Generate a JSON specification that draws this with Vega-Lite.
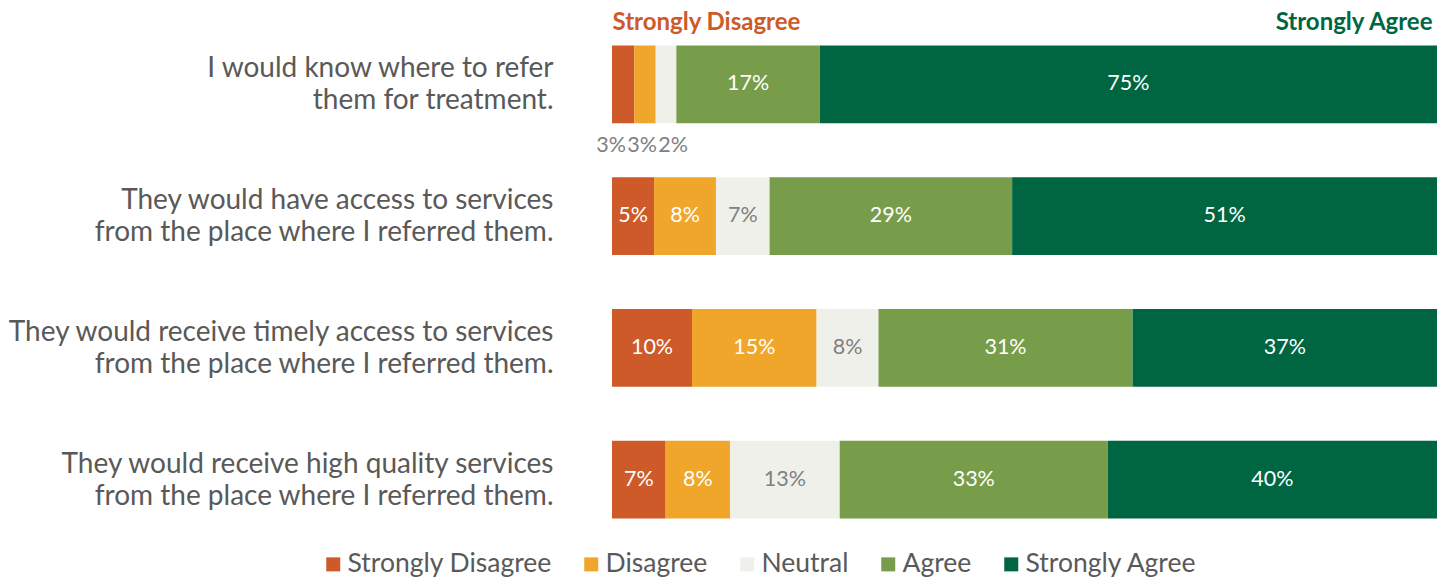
{
  "$schema": "https://vega.github.io/schema/vega-lite/v6.json",
  "width": 825,
  "height": 486,
  "autosize": {"type": "none"},
  "padding": {"left": 612, "top": 39, "right": 12, "bottom": 54},
  "background": "white",
  "config": {"view": {"stroke": null}, "font": "Lato"},
  "data": {
    "values": [
      {"q": "I would know where to refer\nthem for treatment.", "cat": "Strongly Disagree", "order": 1, "value": 2.7, "label": "3%"},
      {"q": "I would know where to refer\nthem for treatment.", "cat": "Disagree", "order": 2, "value": 2.6, "label": "3%"},
      {"q": "I would know where to refer\nthem for treatment.", "cat": "Neutral", "order": 3, "value": 2.5, "label": "2%"},
      {"q": "I would know where to refer\nthem for treatment.", "cat": "Agree", "order": 4, "value": 17.4, "label": "17%"},
      {"q": "I would know where to refer\nthem for treatment.", "cat": "Strongly Agree", "order": 5, "value": 74.8, "label": "75%"},
      {"q": "They would have access to services\nfrom the place where I referred them.", "cat": "Strongly Disagree", "order": 1, "value": 5.1, "label": "5%"},
      {"q": "They would have access to services\nfrom the place where I referred them.", "cat": "Disagree", "order": 2, "value": 7.5, "label": "8%"},
      {"q": "They would have access to services\nfrom the place where I referred them.", "cat": "Neutral", "order": 3, "value": 6.5, "label": "7%"},
      {"q": "They would have access to services\nfrom the place where I referred them.", "cat": "Agree", "order": 4, "value": 29.4, "label": "29%"},
      {"q": "They would have access to services\nfrom the place where I referred them.", "cat": "Strongly Agree", "order": 5, "value": 51.5, "label": "51%"},
      {"q": "They would receive timely access to services\nfrom the place where I referred them.", "cat": "Strongly Disagree", "order": 1, "value": 9.7, "label": "10%"},
      {"q": "They would receive timely access to services\nfrom the place where I referred them.", "cat": "Disagree", "order": 2, "value": 15.1, "label": "15%"},
      {"q": "They would receive timely access to services\nfrom the place where I referred them.", "cat": "Neutral", "order": 3, "value": 7.5, "label": "8%"},
      {"q": "They would receive timely access to services\nfrom the place where I referred them.", "cat": "Agree", "order": 4, "value": 30.8, "label": "31%"},
      {"q": "They would receive timely access to services\nfrom the place where I referred them.", "cat": "Strongly Agree", "order": 5, "value": 36.9, "label": "37%"},
      {"q": "They would receive high quality services\nfrom the place where I referred them.", "cat": "Strongly Disagree", "order": 1, "value": 6.5, "label": "7%"},
      {"q": "They would receive high quality services\nfrom the place where I referred them.", "cat": "Disagree", "order": 2, "value": 7.8, "label": "8%"},
      {"q": "They would receive high quality services\nfrom the place where I referred them.", "cat": "Neutral", "order": 3, "value": 13.3, "label": "13%"},
      {"q": "They would receive high quality services\nfrom the place where I referred them.", "cat": "Agree", "order": 4, "value": 32.5, "label": "33%"},
      {"q": "They would receive high quality services\nfrom the place where I referred them.", "cat": "Strongly Agree", "order": 5, "value": 39.9, "label": "40%"}
    ]
  },
  "transform": [
    {"stack": "value", "groupby": ["q"], "sort": [{"field": "order", "order": "ascending"}], "as": ["v0", "v1"]}
  ],
  "encoding": {
    "y": {
      "field": "q",
      "type": "nominal",
      "sort": null,
      "title": null,
      "scale": {"paddingInner": 0.41, "paddingOuter": 0.05},
      "axis": {
        "domain": false,
        "ticks": false,
        "labelExpr": "split(datum.label, '\\n')",
        "labelFont": "Lato",
        "labelFontSize": 28,
        "labelColor": "#595959",
        "labelLineHeight": 32,
        "labelPadding": 59,
        "labelOffset": -15,
        "labelLimit": 900
      }
    },
    "x": {
      "field": "v0",
      "type": "quantitative",
      "scale": {"domain": [0, 100], "nice": false},
      "axis": {
        "orient": "top",
        "values": [0, 100],
        "title": null,
        "grid": false,
        "domain": false,
        "ticks": false,
        "tickSize": 0,
        "labelPadding": 5,
        "labelFlush": false,
        "labelLimit": 500,
        "labelOverlap": false,
        "labelFont": "Lato",
        "labelFontSize": 24,
        "labelFontWeight": "bold",
        "labelExpr": "datum.value == 0 ? 'Strongly Disagree' : 'Strongly Agree'",
        "labelAlign": {"condition": {"test": "datum.value == 0", "value": "left"}, "value": "right"},
        "labelOffset": {"condition": {"test": "datum.value == 0", "value": 0}, "value": -5},
        "labelColor": {"condition": {"test": "datum.value == 0", "value": "#cd5a28"}, "value": "#006642"}
      }
    }
  },
  "layer": [
    {
      "mark": {"type": "bar"},
      "encoding": {
        "x2": {"field": "v1"},
        "color": {
          "field": "cat",
          "type": "nominal",
          "scale": {
            "domain": ["Strongly Disagree", "Disagree", "Neutral", "Agree", "Strongly Agree"],
            "range": ["#cd5a28", "#f0a52b", "#f0f0eb", "#789d4a", "#006642"]
          },
          "legend": {
            "title": null,
            "orient": "none",
            "legendX": -292,
            "legendY": 512,
            "direction": "horizontal",
            "symbolType": "square",
            "symbolSize": 196,
            "symbolStrokeWidth": 0,
            "labelFont": "Lato",
            "labelFontSize": 26.5,
            "labelColor": "#595959",
            "labelOffset": 1,
            "columnPadding": 26,
            "labelLimit": 400
          }
        }
      }
    },
    {
      "transform": [{"filter": "datum.value >= 4"}],
      "mark": {
        "type": "text",
        "font": "Lato",
        "fontSize": 21.5,
        "dx": {"expr": "(scale('x', datum.v1) - scale('x', datum.v0)) / 2"}
      },
      "encoding": {
        "text": {"field": "label"},
        "color": {"condition": {"test": "datum.cat == 'Neutral'", "value": "#808080"}, "value": "#ffffff"}
      }
    },
    {
      "transform": [{"filter": "datum.value < 4"}],
      "mark": {
        "type": "text",
        "font": "Lato",
        "fontSize": 21.5,
        "dy": 62,
        "color": "#808080",
        "dx": {"expr": "(scale('x', datum.v1) - scale('x', datum.v0)) / 2 + (datum.cat == 'Strongly Disagree' ? -12 : (datum.cat == 'Neutral' ? 7 : -3))"}
      },
      "encoding": {
        "text": {"field": "label"}
      }
    }
  ]
}
